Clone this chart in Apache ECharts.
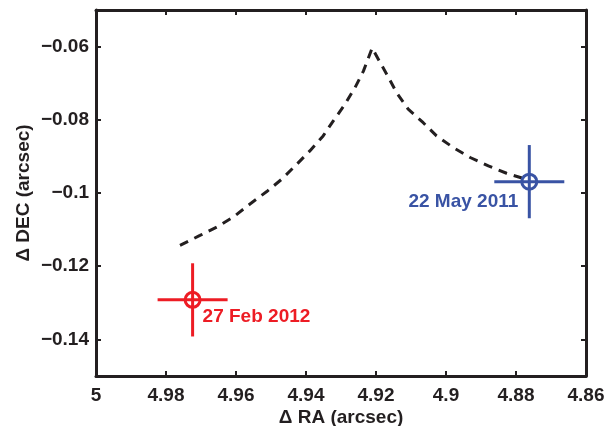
<!DOCTYPE html>
<html><head><meta charset="utf-8">
<script src="https://cdn.jsdelivr.net/npm/echarts@6/dist/echarts.min.js"></script>
<style>html,body{margin:0;padding:0;background:#fff}#c{width:610px;height:426px}</style>
</head><body><div id="c"></div>
<script>
// Dashed track (RA, DEC) in arcsec
const trackRA = [4.976,4.9703,4.9655,4.9608,4.956,4.9512,4.9469,4.9431,4.9389,4.9351,4.9322,4.9289,4.926,4.9236,4.9211,4.9193,4.9169,4.9141,4.9108,4.9065,4.9027,4.8979,4.8931,4.8879,4.8827,4.8783];
const trackDEC = [-0.1143,-0.1116,-0.1093,-0.1066,-0.103,-0.0996,-0.0962,-0.0926,-0.0885,-0.0844,-0.0803,-0.0758,-0.0712,-0.0667,-0.0604,-0.0635,-0.0676,-0.0726,-0.0771,-0.0808,-0.0844,-0.0876,-0.0903,-0.0926,-0.0946,-0.0959];
// Measured positions
const obsLabels = ['27 Feb 2012','22 May 2011'];
const obsRA = [4.9724, 4.8762];
const obsDEC = [-0.1292, -0.0969];
const obsErrRA = [0.01, 0.01];
const obsErrDEC = [0.01, 0.01];
const obsColors = ['#ed1c24', '#3953a4'];
// Tick labels
const xTicks = [4.86,4.88,4.9,4.92,4.94,4.96,4.98,5];
const yTicks = [-0.14,-0.12,-0.1,-0.08,-0.06];

const FONT = '"Liberation Sans", Arial, sans-serif';
const FS = 19;
const AX = '#231f20';
const fmtX = v => String(parseFloat((+v).toFixed(3)));
const fmtY = v => String(parseFloat((+v).toFixed(3))).replace('-', '\u2212');

const chart = echarts.init(document.getElementById('c'));
const axisCommon = {
  axisLine: {show: true, lineStyle: {color: AX, width: 3}},
  axisTick: {show: true, inside: true, length: 5, lineStyle: {color: AX, width: 2}},
  splitLine: {show: false}
};
const xBase = {type: 'value', min: 4.86, max: 5, interval: 0.02, inverse: true};
const yBase = {type: 'value', min: -0.15, max: -0.05};

const obsData = obsRA.map((r, i) => ({
  value: [r, obsDEC[i]],
  itemStyle: {color: 'rgba(255,255,255,0)', borderColor: obsColors[i], borderWidth: 3, opacity: 1},
  label: {
    show: true, formatter: obsLabels[i], color: obsColors[i],
    fontFamily: FONT, fontWeight: 'bold', fontSize: FS,
    position: 'inside', verticalAlign: 'middle',
    align: i === 0 ? 'left' : 'right',
    offset: i === 0 ? [10, 17] : [-11, 20]
  }
}));

chart.setOption({
  animation: false,
  backgroundColor: '#fff',
  grid: {left: 96, right: 24, top: 10, bottom: 50, outerBoundsMode: 'none', containLabel: false},
  xAxis: [
    Object.assign({}, xBase, axisCommon, {
      position: 'bottom',
      name: '\u0394 RA (arcsec)', nameLocation: 'middle', nameGap: 32, nameMoveOverlap: false,
      nameTextStyle: {fontFamily: FONT, fontWeight: 'bold', fontSize: FS, color: AX},
      axisLabel: {formatter: fmtX, fontFamily: FONT, fontWeight: 'bold', fontSize: FS, color: AX, margin: 10, showMinLabel: true, showMaxLabel: true}
    }),
    Object.assign({}, xBase, axisCommon, {position: 'top', axisLabel: {show: false}})
  ],
  yAxis: [
    Object.assign({}, yBase, axisCommon, {
      position: 'left',
      axisTick: Object.assign({}, axisCommon.axisTick, {customValues: yTicks}),
      name: '\u0394 DEC (arcsec)', nameLocation: 'middle', nameGap: 63, nameRotate: 90, nameMoveOverlap: false,
      nameTextStyle: {fontFamily: FONT, fontWeight: 'bold', fontSize: FS, color: AX},
      axisLabel: {customValues: yTicks, formatter: fmtY, fontFamily: FONT, fontWeight: 'bold', fontSize: FS, color: AX, margin: 7}
    }),
    Object.assign({}, yBase, axisCommon, {
      position: 'right',
      axisTick: Object.assign({}, axisCommon.axisTick, {customValues: yTicks}),
      axisLabel: {show: false}
    })
  ],
  series: [
    {
      type: 'line', xAxisIndex: 0, yAxisIndex: 0,
      data: trackRA.map((r, i) => [r, trackDEC[i]]),
      showSymbol: false, smooth: false,
      lineStyle: {color: AX, width: 3, type: [9, 7]}
    },
    {
      type: 'custom', xAxisIndex: 0, yAxisIndex: 0,
      data: obsRA.map((r, i) => [r, obsDEC[i], obsErrRA[i], obsErrDEC[i], i]),
      renderItem: function (params, api) {
        const r = api.value(0), d = api.value(1), er = api.value(2), ed = api.value(3);
        const c = obsColors[api.value(4)];
        const a = api.coord([r - er, d]), b = api.coord([r + er, d]);
        const u = api.coord([r, d + ed]), w = api.coord([r, d - ed]);
        return {type: 'group', children: [
          {type: 'line', shape: {x1: a[0], y1: a[1], x2: b[0], y2: b[1]}, style: {stroke: c, lineWidth: 3}},
          {type: 'line', shape: {x1: u[0], y1: u[1], x2: w[0], y2: w[1]}, style: {stroke: c, lineWidth: 3}}
        ]};
      },
      z: 3
    },
    {
      type: 'scatter', xAxisIndex: 0, yAxisIndex: 0,
      symbol: 'circle', symbolSize: 15,
      itemStyle: {opacity: 1},
      data: obsData, z: 4
    }
  ]
});
</script></body></html>
